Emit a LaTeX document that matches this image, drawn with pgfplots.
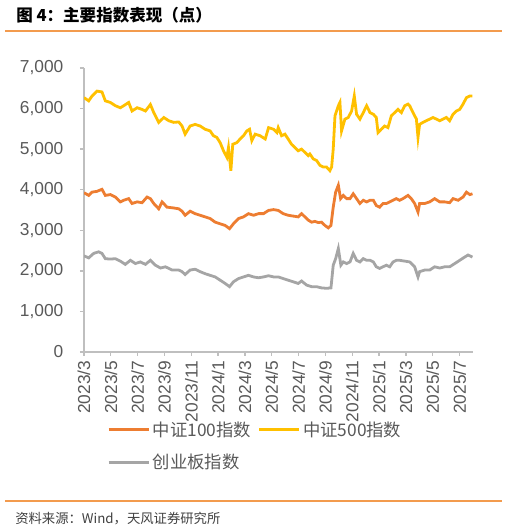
\documentclass[border=0pt]{standalone}
\usepackage{pgfplots}
\pgfplotsset{compat=1.18}
\usepackage{pgfplotstable}
\usepackage{fontspec}
\setmainfont{Liberation Sans}
\newfontfamily\cjk{Noto Sans CJK SC}

\definecolor{csiA}{HTML}{ED7D31}
\definecolor{csiB}{HTML}{FFC000}
\definecolor{cyb}{HTML}{A5A5A5}
\definecolor{rulecol}{HTML}{F39B4E}
\definecolor{axisgray}{HTML}{BFBFBF}
\definecolor{ticktext}{HTML}{595959}

% x = months since 2023/3
\pgfplotstableread{
m v
0.00 3926
0.35 3860
0.60 3940
0.97 3960
1.34 4010
1.59 3860
1.97 3880
2.34 3820
2.71 3700
2.96 3740
3.33 3780
3.58 3660
3.96 3700
4.33 3680
4.70 3820
4.95 3780
5.20 3660
5.57 3530
5.82 3700
6.19 3570
6.69 3550
7.06 3530
7.31 3470
7.54 3370
7.91 3470
8.28 3410
8.66 3370
9.03 3330
9.40 3290
9.78 3200
10.15 3160
10.52 3120
10.85 3040
11.14 3160
11.52 3290
11.89 3330
12.26 3410
12.64 3370
13.01 3410
13.38 3410
13.76 3490
14.13 3510
14.48 3490
14.85 3410
15.22 3370
15.60 3350
15.97 3330
16.22 3410
16.47 3330
16.72 3250
16.97 3200
17.21 3220
17.46 3190
17.71 3200
17.96 3120
18.21 3060
18.41 3120
18.58 3570
18.76 3940
18.96 4110
19.13 3780
19.33 3860
19.58 3780
19.83 3780
20.07 3900
20.32 3780
20.57 3660
20.82 3740
21.07 3700
21.32 3740
21.57 3740
21.79 3610
22.04 3570
22.29 3660
22.54 3660
22.79 3700
23.04 3740
23.28 3780
23.53 3740
23.78 3780
24.15 3860
24.40 3780
24.65 3660
24.90 3450
25.02 3660
25.40 3660
25.77 3700
26.14 3780
26.52 3700
26.89 3700
27.26 3680
27.51 3780
27.89 3740
28.26 3820
28.51 3940
28.76 3880
28.96 3900
}\csihundred

\pgfplotstableread{
m v
0.00 6270
0.35 6190
0.60 6310
0.97 6430
1.34 6410
1.59 6190
1.97 6150
2.34 6070
2.71 6020
2.96 6070
3.33 6150
3.58 5940
3.96 6020
4.33 5980
4.58 5940
4.95 6100
5.20 5900
5.57 5660
5.95 5780
6.32 5700
6.69 5660
7.06 5670
7.31 5570
7.54 5370
7.91 5570
8.28 5610
8.66 5570
9.03 5490
9.40 5450
9.65 5330
9.90 5290
10.15 5160
10.40 4960
10.65 4800
10.77 5040
10.95 4470
11.09 5120
11.39 5160
11.64 5250
11.89 5330
12.14 5450
12.34 5490
12.51 5210
12.76 5370
13.13 5330
13.51 5250
13.76 5530
14.13 5490
14.38 5410
14.48 5530
14.73 5330
14.98 5370
15.22 5250
15.47 5120
15.72 5040
15.97 4960
16.22 5000
16.47 4920
16.72 4840
16.84 4880
17.09 4760
17.34 4720
17.59 4600
17.84 4560
18.08 4560
18.33 4470
18.46 4560
18.58 5000
18.71 5820
18.96 6070
19.08 6150
19.20 5450
19.45 5740
19.70 5780
19.95 5940
20.15 6310
20.32 5860
20.57 5740
20.82 5900
21.07 6070
21.32 5900
21.57 5860
21.79 5780
21.92 5410
22.16 5490
22.41 5570
22.66 5530
22.91 5820
23.16 5900
23.41 5980
23.66 5900
23.91 6070
24.15 6110
24.28 6070
24.53 5900
24.78 5740
24.90 5290
25.02 5610
25.27 5660
25.52 5700
25.77 5740
26.02 5780
26.27 5740
26.52 5700
26.77 5740
27.01 5780
27.26 5700
27.51 5860
27.76 5940
28.01 5980
28.26 6110
28.51 6270
28.76 6310
28.96 6310
}\csifivehundred

\pgfplotstableread{
m v
0.00 2370
0.35 2320
0.72 2430
1.09 2470
1.34 2430
1.59 2300
1.97 2290
2.34 2300
2.71 2240
3.08 2160
3.46 2260
3.83 2180
4.20 2220
4.58 2160
4.95 2260
5.32 2140
5.70 2070
6.07 2100
6.57 2020
7.06 2020
7.31 1980
7.54 1910
7.91 2020
8.28 2040
8.66 1980
9.03 1930
9.40 1890
9.78 1850
10.15 1770
10.52 1690
10.85 1610
11.14 1730
11.52 1810
11.89 1850
12.26 1890
12.64 1850
13.01 1830
13.38 1850
13.76 1880
14.13 1850
14.48 1850
14.85 1810
15.22 1770
15.60 1730
15.97 1690
16.22 1750
16.59 1650
16.97 1610
17.34 1610
17.71 1580
18.08 1570
18.41 1580
18.58 2140
18.76 2300
18.96 2550
19.15 2140
19.33 2220
19.58 2180
19.83 2220
20.07 2430
20.32 2260
20.57 2220
20.82 2300
21.07 2260
21.32 2260
21.57 2220
21.79 2100
22.04 2060
22.29 2100
22.54 2140
22.79 2100
23.04 2220
23.28 2260
23.53 2260
23.91 2240
24.28 2220
24.65 2100
24.90 1850
25.02 1980
25.40 2020
25.77 2020
26.14 2100
26.52 2070
26.89 2100
27.26 2100
27.64 2180
28.01 2260
28.38 2340
28.63 2390
28.96 2340
}\chinext

\begin{document}
\begin{tikzpicture}
% picture measured in pixels of the 508x530 reference, 1px = 0.75pt
\useasboundingbox (0pt,0pt) rectangle (381pt,397.5pt);

% title and rules
\node[anchor=west, inner sep=0pt] at (12pt,386.25pt)
  {\cjk\bfseries\fontsize{12.4}{12.4}\selectfont 图 4：主要指数表现（点）};
\draw[rulecol, line width=1.5pt] (3.75pt,374.25pt) -- (376.5pt,374.25pt);
\draw[rulecol, line width=1.5pt] (3.75pt,21.75pt) -- (376.5pt,21.75pt);
\node[anchor=west, inner sep=0pt, text=black!75] at (11.25pt,8.25pt)
  {\cjk\fontsize{10}{10}\selectfont 资料来源：Wind，天风证券研究所};

\begin{axis}[
  at={(63pt,133.5pt)}, anchor=south west,
  scale only axis,
  width=291.75pt, height=213pt,
  xmin=0, xmax=29,
  ymin=0, ymax=7000,
  axis lines=left,
  axis line style={-, draw=axisgray, line width=1.1pt},
  tick style={draw=axisgray, line width=1pt},
  tick align=outside,
  major tick length=3pt,
  xtick={0,2,...,28},
  xticklabels={2023/3,2023/5,2023/7,2023/9,2023/11,2024/1,2024/3,2024/5,2024/7,2024/9,2024/11,2025/1,2025/3,2025/5,2025/7},
  xticklabel style={rotate=90, anchor=east},
  ytick={0,1000,...,7000},
  yticklabels={0,{1,000},{2,000},{3,000},{4,000},{5,000},{6,000},{7,000}},
  yticklabel style={xshift=-9pt},
  tick label style={font=\fontsize{13}{13}\selectfont, text=ticktext},
  legend style={
    at={(axis description cs:0.049,-0.225)}, anchor=north west,
    draw=none, fill=none,
    font=\cjk\fontsize{13}{13}\selectfont, text=ticktext,
    legend columns=2,
    row sep=8pt,
    /tikz/every even column/.append style={column sep=3pt},
  },
  legend cell align=left,
  legend image code/.code={\draw[#1] (0pt,0pt) -- (30pt,0pt);},
]
\addplot[csiA, line width=2.1pt] table[x=m, y=v] {\csihundred};
\addlegendentry{中证100指数}
\addplot[csiB, line width=2.1pt] table[x=m, y=v] {\csifivehundred};
\addlegendentry{中证500指数}
\addplot[cyb, line width=2.1pt] table[x=m, y=v] {\chinext};
\addlegendentry{创业板指数}
\end{axis}
\end{tikzpicture}
\end{document}
